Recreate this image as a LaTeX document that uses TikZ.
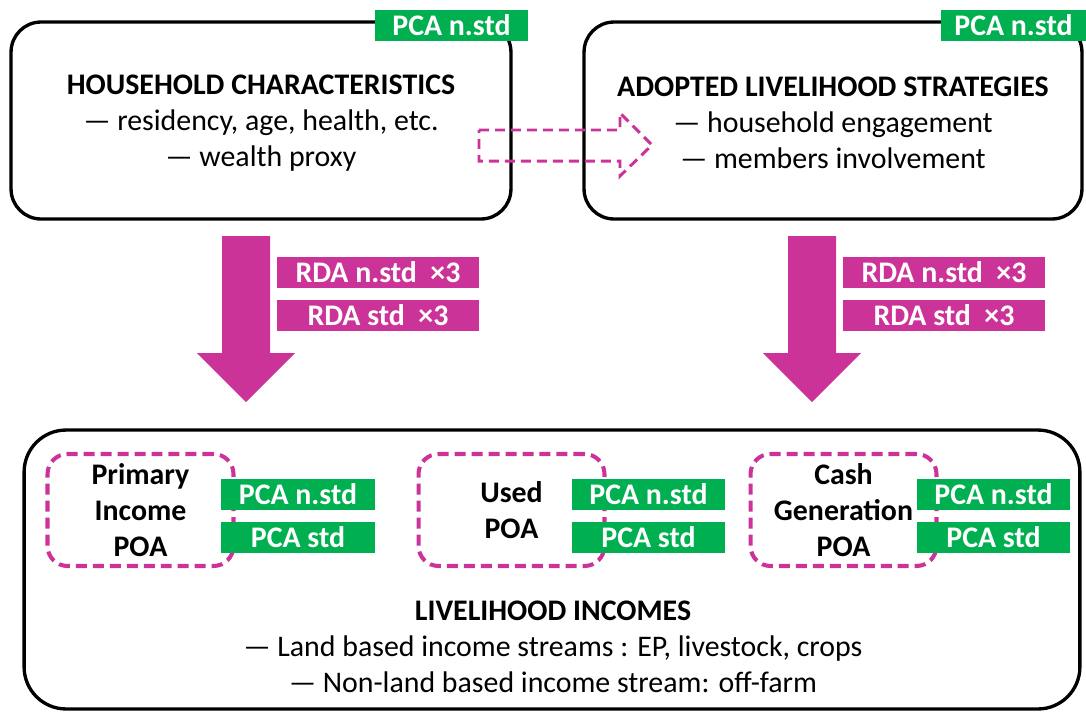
\documentclass[tikz,border=0pt]{standalone}
\usepackage{fontspec}
\setmainfont{Carlito}
\usetikzlibrary{positioning}
\definecolor{mag}{RGB}{204,51,153}
\definecolor{grn}{RGB}{0,176,80}
\begin{document}
\begin{tikzpicture}[x=.02cm,y=-.02cm,font=\fontsize{17}{20.5}\selectfont,
    box/.style={draw,line width=1.9pt,rounded corners=.6cm,align=center},
    poa/.style={draw=mag,line width=2.3pt,dash pattern=on .22cm off .12cm,rounded corners=.4cm,
        minimum width=3.72cm,minimum height=2.24cm,align=center,font=\fontsize{17}{20.5}\selectfont\bfseries},
    tag/.style={fill=grn,text=white,inner sep=0pt,minimum width=3.08cm,minimum height=.62cm,
        font=\fontsize{17}{20.5}\selectfont\bfseries},
    rda/.style={tag,fill=mag,minimum width=4.04cm}]
    \useasboundingbox (0,0) rectangle (1086,711);
    % top boxes
    \node[box,minimum width=10cm,minimum height=3.94cm] (hc) at (261,120.5) {};
    \node[align=center] (hctxt) at (261,123.5)
        {\textbf{HOUSEHOLD CHARACTERISTICS}\\— residency, age, health, etc.\\— wealth proxy};
    \node[box,minimum width=9.96cm,minimum height=3.94cm] (als) at (833,120.5) {};
    \node[align=center] (alstxt) at (833,123)
        {\textbf{ADOPTED LIVELIHOOD STRATEGIES}\\— household engagement\\— members involvement};
    \node[tag] (hcpca) at (451.5,25.5) {PCA n.std};
    \node[tag,minimum width=2.9cm] (alspca) at (1013.5,25.5) {PCA n.std};
    \draw[mag,line width=1.7pt,dash pattern=on .2cm off .12cm]
        (479,130) -- (620,130) -- (620,113) -- (652,145) -- (620,176) -- (620,161) -- (479,161) -- cycle;
    % big arrows and RDA
    \foreach \c in {246,812}
        \fill[mag] (\c-24,236) -- (\c+24,236) -- (\c+24,353) -- (\c+49,353) -- (\c,402)
            -- (\c-49,353) -- (\c-24,353) -- cycle;
    \node[rda] (rda1) at (378,272.5) {RDA n.std\ \ ×3};
    \node[rda] (rda2) at (378,315.5) {RDA std\ \ ×3};
    \node[rda] (rda3) at (944,272.5) {RDA n.std\ \ ×3};
    \node[rda] (rda4) at (944,315.5) {RDA std\ \ ×3};
    % bottom box
    \node[box,rounded corners=.84cm,minimum width=21.12cm,minimum height=5.58cm] (li) at (552,569.5) {};
    \node[poa] (pri) at (140.5,510) {Primary\\Income\\POA};
    \node[poa] (used) at (511.5,510) {Used\\POA};
    \node[poa] (cash) at (843.5,510) {Cash\\Generation\\POA};
    \foreach \n/\x in {pri/298,used/648.5,cash/993.5}{
        \node[tag] (\n1) at (\x,494) {PCA n.std};
        \node[tag] (\n2) at (\x,537.5) {PCA std};
    }
    \node[align=center] (litxt) at (553,647)
        {\textbf{LIVELIHOOD INCOMES}\\— Land based income streams : EP, livestock, crops\\— Non-land based income stream: off-farm};
\end{tikzpicture}
\end{document}
